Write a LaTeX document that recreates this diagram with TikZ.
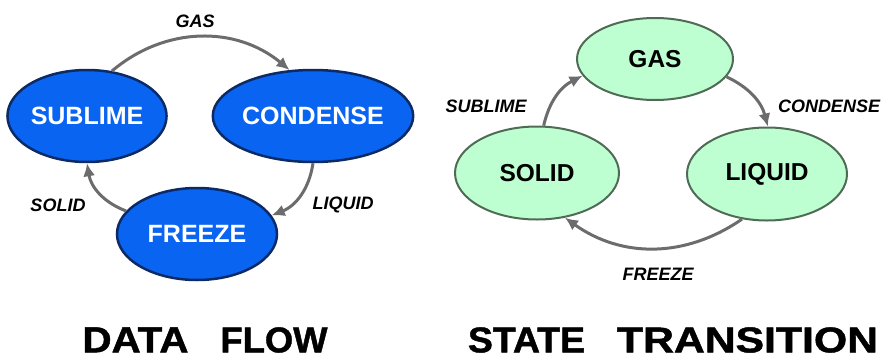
\documentclass[tikz,border=0pt]{standalone}
\usepackage{fontspec}
\setmainfont{Liberation Sans}
\newfontfamily\captionfont{Liberation Sans Bold}[FakeBold=1.2]
\usetikzlibrary{shapes.geometric,arrows.meta}
\definecolor{flowblue}{HTML}{0A64F2}
\definecolor{flowedge}{HTML}{0C2B66}
\definecolor{stategreen}{HTML}{BEFFD2}
\definecolor{stateedge}{HTML}{4F6B55}
\definecolor{arrowgray}{HTML}{6C6C6C}
\begin{document}
\begin{tikzpicture}[x=1pt,y=1pt,
  flownode/.style={ellipse,draw=flowedge,line width=2.5pt,fill=flowblue,
    text=white,inner sep=0pt,font=\fontsize{25}{25}\selectfont\bfseries},
  statenode/.style={ellipse,draw=stateedge,line width=2pt,fill=stategreen,
    text=black,inner sep=0pt,font=\fontsize{24.5}{24.5}\selectfont\bfseries},
  arr/.style={draw=arrowgray,line width=3pt,
    -{Latex[length=13pt,width=12pt]}},
  lbl/.style={font=\fontsize{18}{18}\selectfont\bfseries\itshape},
  ttl/.style={font=\fontsize{34}{34}\selectfont\captionfont,inner sep=0pt}]
\useasboundingbox (0,0) rectangle (885,360);

% data flow diagram
\node[flownode,minimum width=156pt,minimum height=92pt] (sub) at (87,244) {SUBLIME};
\node[flownode,minimum width=160pt,minimum height=92pt] (con) at (313,244) {CONDENSE};
\node[flownode,minimum width=160pt,minimum height=92pt] (frz) at (197,126) {FREEZE};

\draw[arr] (sub.61) to[bend left=40] (con.117);
\draw[arr] (con.-90) to[bend left=30] (frz.14);
\draw[arr] (frz.162) to[bend left=30] (sub.-90);

\node[lbl] (lgas) at (195,338.5) {GAS};
\node[lbl] (lsol) at (58,155) {SOLID};
\node[lbl] (lliq) at (343,155) {LIQUID};

% state transition diagram
\node[statenode,minimum width=156pt,minimum height=82pt] (gas) at (655,301) {GAS};
\node[statenode,minimum width=164pt,minimum height=93pt] (sol) at (537,187) {SOLID};
\node[statenode,minimum width=160pt,minimum height=93pt] (liq) at (767,186) {LIQUID};

\draw[arr] (sol.82) to[bend left=25] (gas.193);
\draw[arr] (gas.-14) to[bend left=25] (liq.89);
\draw[arr] (liq.-119) to[bend left=35] (sol.-58);

\node[lbl] (lsub) at (486,254) {SUBLIME};
\node[lbl] (lcon) at (829,254) {CONDENSE};
\node[lbl] (lfrz) at (658,86) {FREEZE};

% captions
\node[ttl] (t1) at (205,20)
  {\resizebox{106pt}{25pt}{DATA}\hspace{32pt}\resizebox{107pt}{25pt}{FLOW}};
\node[ttl] (t2) at (673,20)
  {\resizebox{117pt}{25pt}{STATE}\hspace{32pt}\resizebox{261pt}{25pt}{TRANSITION}};
\end{tikzpicture}
\end{document}
